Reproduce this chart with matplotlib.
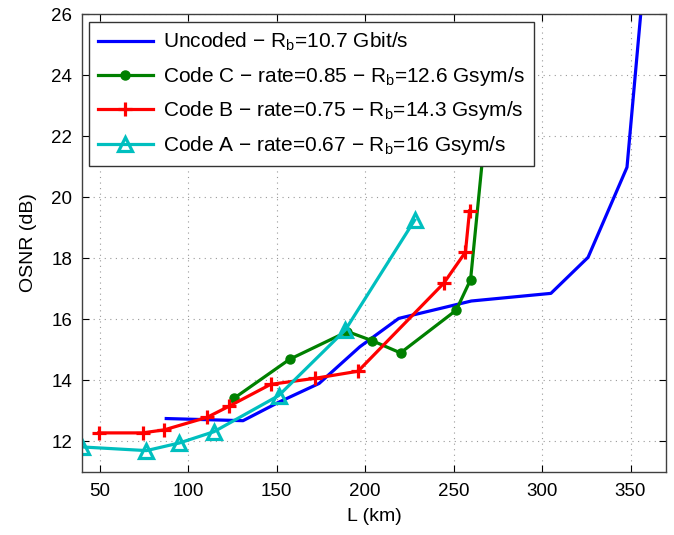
import matplotlib
matplotlib.use("Agg")
from matplotlib import pyplot as plt

# Uncoded, Rb = 10.7 Gbit/s
unc_L = [87.6, 131, 151, 174, 197, 219, 260, 305, 326, 348, 357]
unc_osnr = [12.75, 12.68, 13.28, 13.9, 15.1, 16.03, 16.6, 16.85, 18.03, 20.98, 26.8]

# Code C, rate 0.85
codeC_L = [125.8, 157.3, 190, 204, 220, 251.5, 259.6, 271]
codeC_osnr = [13.41, 14.69, 15.6, 15.3, 14.9, 16.3, 17.3, 24]

# Code B, rate 0.75
codeB_L = [49.4, 74.2, 86.5, 110.7, 123, 146.6, 171.9, 196, 244.4, 256.7, 259]
codeB_osnr = [12.28, 12.28, 12.38, 12.79, 13.15, 13.87, 14.07, 14.3, 17.18, 18.2, 19.55]

# Code A, rate 0.67
codeA_L = [40, 76.4, 95, 114.6, 151.1, 188.8, 228]
codeA_osnr = [11.82, 11.7, 11.95, 12.32, 13.5, 15.65, 19.25]

labels = [
    r"Uncoded $-$ R$_\mathregular{b}$=10.7 Gbit/s",
    r"Code C $-$ rate=0.85 $-$ R$_\mathregular{b}$=12.6 Gsym/s",
    r"Code B $-$ rate=0.75 $-$ R$_\mathregular{b}$=14.3 Gsym/s",
    r"Code A $-$ rate=0.67 $-$ R$_\mathregular{b}$=16 Gsym/s",
]

plt.rcParams["font.family"] = ["Liberation Sans", "DejaVu Sans"]
plt.rcParams["mathtext.default"] = "regular"

fig = plt.figure(figsize=(6.74, 5.35), dpi=100)
ax = fig.add_axes([0.1217, 0.1178, 0.8663, 0.856])

lw = 2.3
ax.plot(unc_L, unc_osnr, color=(0, 0, 1), linewidth=lw, label=labels[0])
ax.plot(codeC_L, codeC_osnr, color=(0, 0.5, 0), linewidth=lw, marker="o",
        markersize=6.5, label=labels[1])
ax.plot(codeB_L, codeB_osnr, color=(1, 0, 0), linewidth=lw, marker="+",
        markersize=10, markeredgewidth=2.3, label=labels[2])
ax.plot(codeA_L, codeA_osnr, color=(0, 0.75, 0.75), linewidth=lw, marker="^",
        markersize=10, markerfacecolor="none", markeredgewidth=2.3, label=labels[3])

ax.set_xlim(40, 370)
ax.set_ylim(11, 26)
ax.set_xticks([50, 100, 150, 200, 250, 300, 350])
ax.set_yticks([12, 14, 16, 18, 20, 22, 24, 26])
ax.tick_params(direction="in", top=True, right=True, labelsize=13.5, length=5, width=0.8)
ax.tick_params(axis="x", pad=8)
ax.tick_params(axis="y", pad=7)
ax.grid(True, linestyle=(0, (1, 4)), color="0.6", linewidth=0.8)
for s in ax.spines.values():
    s.set_linewidth(1.0)
    s.set_color("0.25")

ax.set_xlabel("L (km)", fontsize=14, labelpad=6)
ax.set_ylabel("OSNR (dB)", fontsize=14, labelpad=10)

leg = ax.legend(loc="upper left", bbox_to_anchor=(0.012, 0.983), borderaxespad=0,
                fontsize=15, fancybox=False, framealpha=1, edgecolor="0.2",
                handlelength=2.6, labelspacing=0.55, borderpad=0.45, handletextpad=0.5)
leg.get_frame().set_linewidth(1.0)

fig.savefig("out.png", dpi=100)
